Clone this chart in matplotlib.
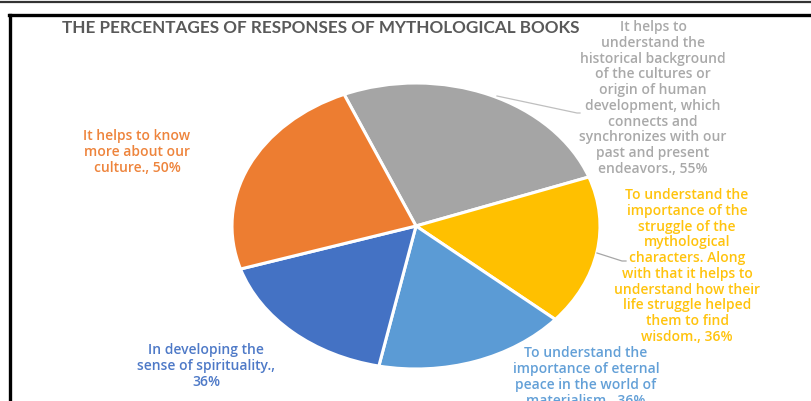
import matplotlib
matplotlib.use("Agg")
import matplotlib.pyplot as plt
from matplotlib.lines import Line2D

# -------------------------------------------------
# DATA
# -------------------------------------------------
labels = [
    "It helps to\nunderstand the\nhistorical background\nof the cultures or\norigin of human\ndevelopment, which\nconnects and\nsynchronizes with our\npast and present\nendeavors.",
    "To understand the\nimportance of the\nstruggle of the\nmythological\ncharacters. Along\nwith that it helps to\nunderstand how their\nlife struggle helped\nthem to find\nwisdom.",
    "To understand the\nimportance of eternal\npeace in the world of\nmaterialism.",
    "In developing the\nsense of spirituality.,\n",
    "It helps to know\nmore about our\nculture.",
]
values = [55, 36, 36, 36, 50]
colors = ["#A5A5A5", "#FFC000", "#5B9BD5", "#4472C4", "#ED7D31"]
title = "THE PERCENTAGES OF RESPONSES OF MYTHOLOGICAL BOOKS"

W, H = 811, 401
fig = plt.figure(figsize=(W / 100, H / 100), dpi=100)
plt.rcParams["font.family"] = ["Lato", "DejaVu Sans"]


def px(x, y):
    """pixel coords (top-left origin) -> figure fraction"""
    return x / W, 1 - y / H


# pie area (elliptical, like the stretched reference)
left, right, top, bottom = 232, 600, 83, 369
ax = fig.add_axes([left / W, 1 - bottom / H, (right - left) / W, (bottom - top) / H])
ax.pie(values, colors=colors, startangle=113, counterclock=False,
       wedgeprops=dict(edgecolor="white", linewidth=2.2))
ax.set_xlim(-1, 1)
ax.set_ylim(-1, 1)
ax.set_aspect("auto")
ax.axis("off")

# title
fig.text(*px(62, 28), title, fontsize=12.3, fontweight="bold", color="#595959",
         ha="left", va="center")

# data labels
def label_text(i):
    lab = labels[i]
    if lab.endswith("\n"):
        return lab + f"{values[i]}%"
    return lab + f", {values[i]}%"

label_pos = [(653, 98), (687, 266), (586, 377), (206, 366), (137, 152)]
for i, (x, y) in enumerate(label_pos):
    fig.text(*px(x, y), label_text(i), fontsize=10, fontweight="semibold",
             family=["Open Sans", "DejaVu Sans"],
             color=colors[i], ha="center", va="center", linespacing=1.16,
             alpha=0.95)

# leader lines
fig.add_artist(Line2D([497 / W, 577 / W, 580 / W], [1 - 96 / H, 1 - 113 / H, 1 - 113 / H],
                      color="#BFBFBF", linewidth=0.9))
fig.add_artist(Line2D([597 / W, 622 / W, 626 / W], [1 - 253 / H, 1 - 261 / H, 1 - 261 / H],
                      color="#A6A6A6", linewidth=0.9))

# frame lines
fig.add_artist(Line2D([0, 1], [1 - 1.5 / H, 1 - 1.5 / H], color="#333333", linewidth=1.6))
fig.add_artist(Line2D([8.5 / W, 1], [1 - 14.5 / H, 1 - 14.5 / H], color="black", linewidth=2.4))
fig.add_artist(Line2D([9.5 / W, 9.5 / W], [1 - 14.5 / H, 0], color="black", linewidth=2.4))

fig.savefig("out.png", dpi=100, facecolor="white")
